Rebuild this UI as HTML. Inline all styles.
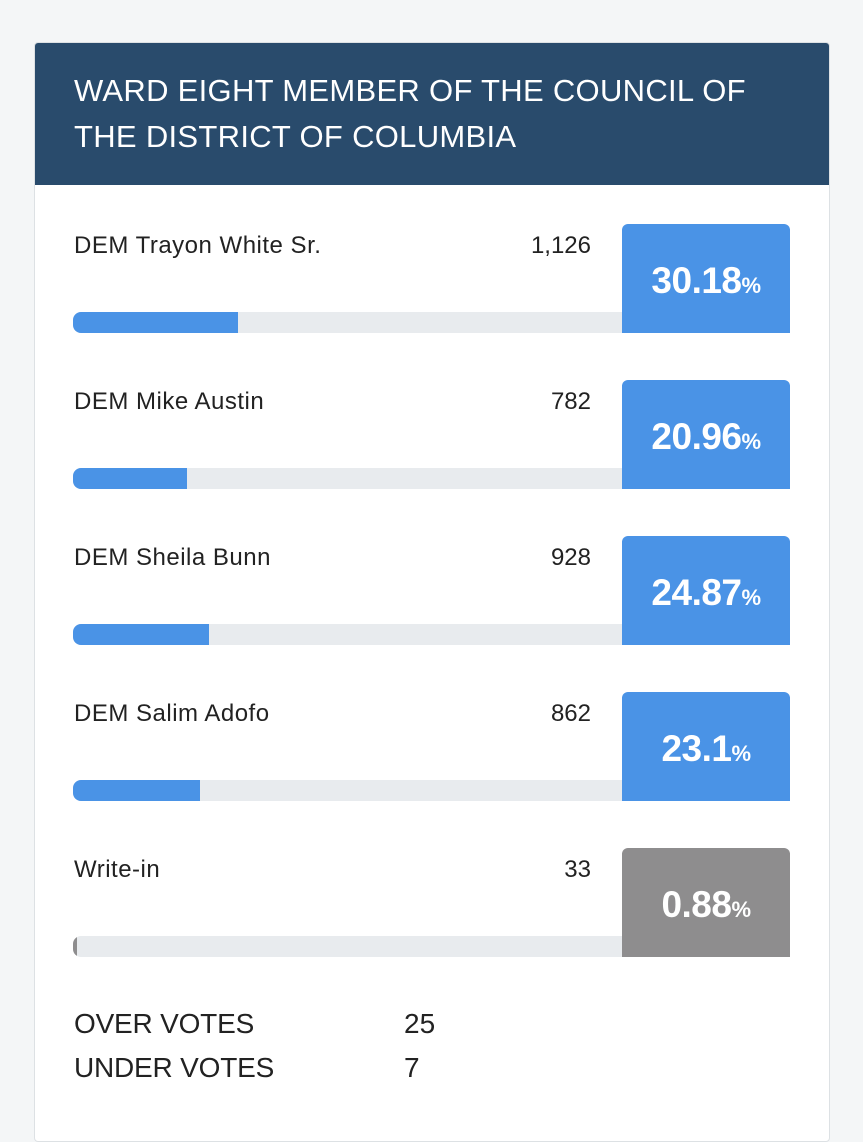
<!DOCTYPE html>
<html><head><meta charset="utf-8"><style>
*{margin:0;padding:0;box-sizing:border-box}
body{width:863px;height:1114px;background:#f4f6f7;font-family:"Liberation Sans",sans-serif;position:relative;overflow:hidden;color:#222}
.card{position:absolute;left:34px;top:42px;width:796px;height:1100px;background:#fff;border:1px solid #dde1e4;border-radius:4px;overflow:hidden}
.hdr{position:absolute;left:0;top:0;width:100%;height:142px;background:#294b6c;color:#fff;font-size:31px;line-height:46px;padding:25px 0 0 39px;letter-spacing:0.3px}
.row{position:absolute;left:0;width:100%;height:110px}
.name{position:absolute;left:39px;top:8px;font-size:24px;letter-spacing:0.5px}
.votes{position:absolute;right:238px;top:8px;font-size:24px;text-align:right}
.bar{position:absolute;left:38px;top:88px;width:560px;height:21px;background:#e8ebee;border-radius:8px 0 0 8px;overflow:hidden}
.fill{height:100%;background:#4a93e6}
.box{position:absolute;left:587px;top:0;width:168px;height:109px;background:#4a93e6;border-radius:6px 6px 0 0;color:#fff;font-weight:bold;font-size:37px;text-align:center;padding-top:36px;letter-spacing:-0.5px}
.box small{font-size:22px}
.gray{background:#8e8d8e}
.ft{position:absolute;left:39px;font-size:28px;letter-spacing:-0.2px}
.fn{position:absolute;left:369px;font-size:28px}
</style></head><body>
<div class="card">
<div class="hdr">WARD EIGHT MEMBER OF THE COUNCIL OF<br>THE DISTRICT OF COLUMBIA</div>
<div class="row" style="top:181px"><div class="name">DEM Trayon White Sr.</div><div class="votes">1,126</div><div class="bar"><div class="fill" style="width:165px"></div></div><div class="box">30.18<small>%</small></div></div>
<div class="row" style="top:337px"><div class="name">DEM Mike Austin</div><div class="votes">782</div><div class="bar"><div class="fill" style="width:114px"></div></div><div class="box">20.96<small>%</small></div></div>
<div class="row" style="top:493px"><div class="name">DEM Sheila Bunn</div><div class="votes">928</div><div class="bar"><div class="fill" style="width:136px"></div></div><div class="box">24.87<small>%</small></div></div>
<div class="row" style="top:649px"><div class="name">DEM Salim Adofo</div><div class="votes">862</div><div class="bar"><div class="fill" style="width:127px"></div></div><div class="box">23.1<small>%</small></div></div>
<div class="row" style="top:805px"><div class="name">Write-in</div><div class="votes">33</div><div class="bar"><div class="fill" style="width:4px;background:#8e8d8e"></div></div><div class="box gray">0.88<small>%</small></div></div>
<div class="ft" style="top:965px">OVER VOTES</div><div class="fn" style="top:965px">25</div>
<div class="ft" style="top:1009px">UNDER VOTES</div><div class="fn" style="top:1009px">7</div>
</div>
</body></html>
